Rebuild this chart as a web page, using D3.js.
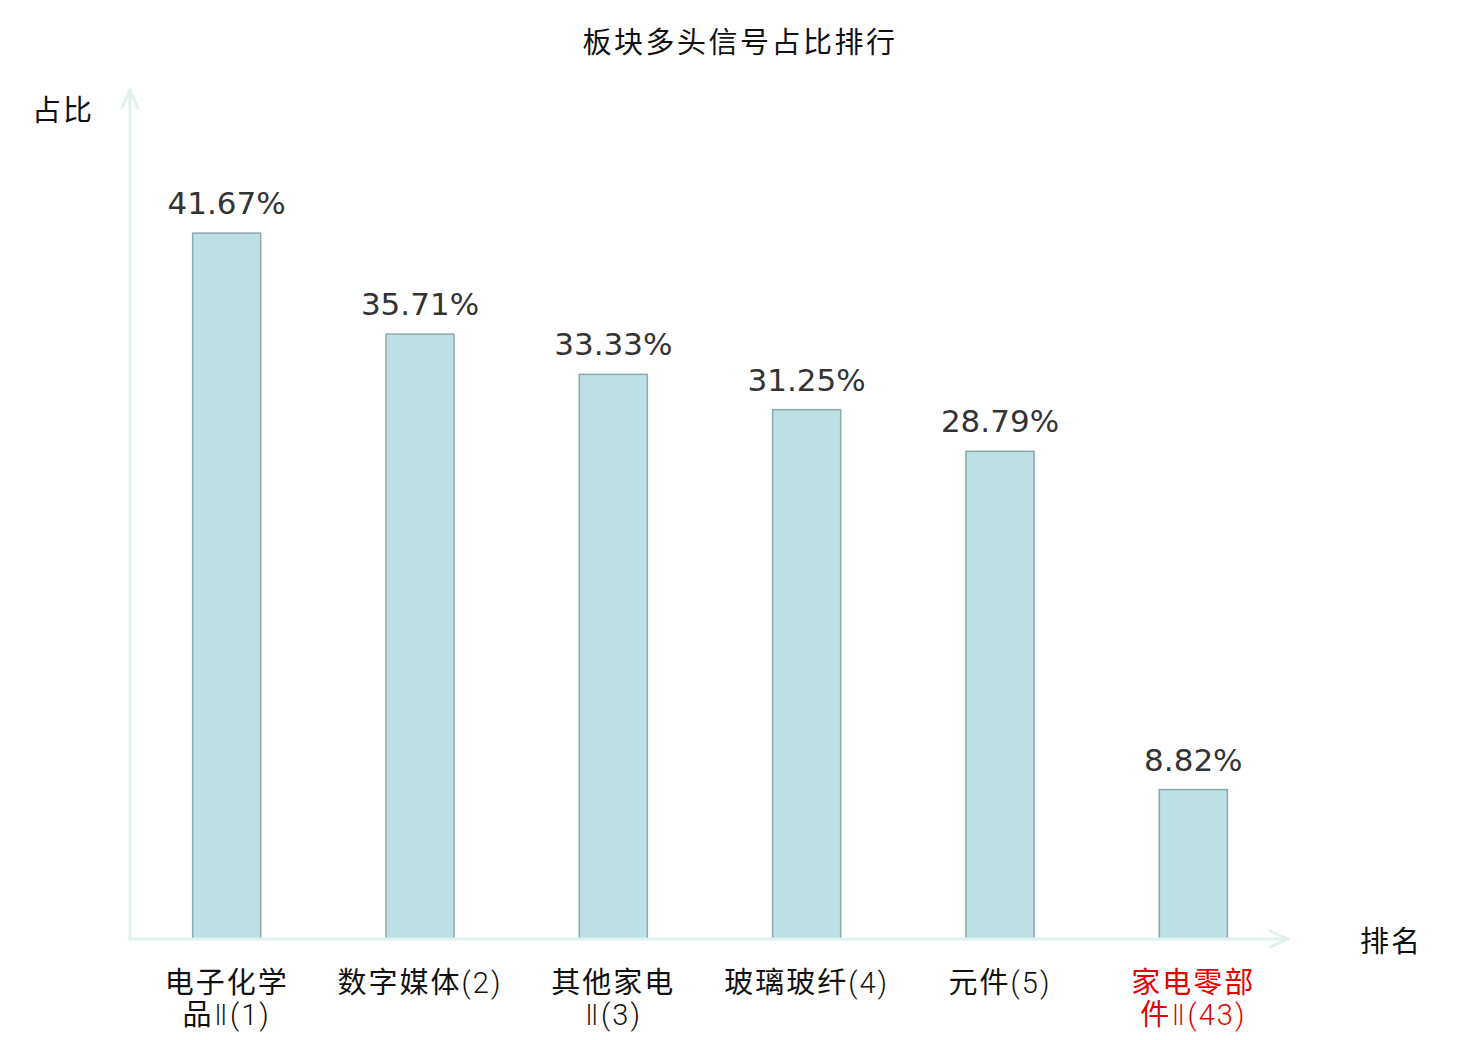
<!DOCTYPE html>
<html>
<head>
<meta charset="utf-8">
<script src="https://cdn.jsdelivr.net/npm/d3@7"></script>
<style>
  body { margin: 0; background: #fff; }
  svg { display: block; }
</style>
</head>
<body>
<div id="chart"></div>
<script>
const categories = ["电子化学品Ⅱ(1)", "数字媒体(2)", "其他家电Ⅱ(3)", "玻璃玻纤(4)", "元件(5)", "家电零部件Ⅱ(43)"]
const shares = [41.67, 35.71, 33.33, 31.25, 28.79, 8.82]
const highlighted = ["家电零部件Ⅱ(43)"]

const W = 1480, H = 1040
const MARGIN = { TOP: 92, BOTTOM: 101, LEFT: 130, RIGHT: 190 }
const CJK = "'Noto Sans CJK SC', 'DejaVu Sans', sans-serif"
const THIN = "'Roboto', 'DejaVu Sans', sans-serif"
const AXIS_COLOR = "#dff2ef"

const svg = d3.select("#chart").append("svg")
    .attr("width", W)
    .attr("height", H)

const x = d3.scaleBand()
    .domain(categories)
    .range([MARGIN.LEFT, W - MARGIN.RIGHT])
    .paddingInner(0.648)
    .paddingOuter(0.324)

const y = d3.scaleLinear()
    .domain([0, 50])
    .range([H - MARGIN.BOTTOM, MARGIN.TOP])

// title
svg.append("text")
    .attr("x", W / 2)
    .attr("y", 53)
    .attr("text-anchor", "middle")
    .style("font-family", CJK)
    .style("font-size", "29px")
    .style("letter-spacing", "2.5px")
    .attr("fill", "#111")
    .text("板块多头信号占比排行")

// bars
svg.selectAll("rect.bar")
    .data(shares)
    .enter().append("rect")
    .attr("class", "bar")
    .attr("x", (d, i) => x(categories[i]))
    .attr("y", d => y(d))
    .attr("width", x.bandwidth())
    .attr("height", d => y(0) - y(d))
    .attr("fill", "#bce0e3")
    .attr("stroke", "#8aa9aa")
    .attr("stroke-width", 1.5)

// value labels
svg.selectAll("text.val")
    .data(shares)
    .enter().append("text")
    .attr("class", "val")
    .attr("x", (d, i) => x(categories[i]) + x.bandwidth() / 2)
    .attr("y", d => y(d) - 19)
    .attr("text-anchor", "middle")
    .style("font-family", "'DejaVu Sans', sans-serif")
    .style("font-size", "31px")
    .attr("fill", "#333")
    .text(d => d.toFixed(2) + "%")

// axes drawn by hand with arrow heads
const x0 = MARGIN.LEFT, yBase = y(0)
const axes = svg.append("g")
    .attr("fill", "none")
    .attr("stroke", AXIS_COLOR)
    .attr("stroke-width", 3)
    .attr("stroke-linecap", "round")
    .attr("stroke-linejoin", "round")

axes.append("line").attr("x1", x0).attr("y1", yBase).attr("x2", 1288).attr("y2", yBase)
axes.append("polyline").attr("points", `1270,${yBase - 8} 1288,${yBase} 1270,${yBase + 8}`)
axes.append("line").attr("x1", x0).attr("y1", yBase).attr("x2", x0).attr("y2", 90)
axes.append("polyline").attr("points", `${x0 - 8},108 ${x0},90 ${x0 + 8},108`)

svg.append("text")
    .attr("x", 63)
    .attr("y", 121)
    .attr("text-anchor", "middle")
    .style("font-family", CJK)
    .style("font-size", "29px")
    .style("letter-spacing", "2px")
    .attr("fill", "#111")
    .text("占比")

svg.append("text")
    .attr("x", 1391)
    .attr("y", 952)
    .attr("text-anchor", "middle")
    .style("font-family", CJK)
    .style("font-size", "29px")
    .style("letter-spacing", "2px")
    .attr("fill", "#111")
    .text("排名")

// category labels, long names wrap after 4 chars
const wrap = s => s.length > 7 ? [s.slice(0, 4), s.slice(4)] : [s]
// split a line into CJK runs and the rest (digits, brackets, numerals)
const runs = s => s.match(/[\u4e00-\u9fff]+|[^\u4e00-\u9fff]+/g)

const ticks = svg.selectAll("text.cat")
    .data(categories)
    .enter().append("text")
    .attr("class", "cat")
    .attr("x", d => x(d) + x.bandwidth() / 2)
    .attr("y", 993)
    .attr("text-anchor", "middle")
    .style("font-size", "29px")
    .style("letter-spacing", "2px")
    .attr("fill", d => highlighted.includes(d) ? "#e60000" : "#111")

const lines = ticks.selectAll("tspan.line")
    .data(d => wrap(d))
    .enter().append("tspan")
    .attr("class", "line")
    .attr("x", function () { return this.parentNode.getAttribute("x") })
    .attr("dy", (d, i) => i === 0 ? 0 : 32)

lines.selectAll("tspan")
    .data(d => runs(d))
    .enter().append("tspan")
    .style("font-family", d => /[\u4e00-\u9fff]/.test(d) ? CJK : THIN)
    .style("font-weight", d => /[\u4e00-\u9fff]/.test(d) ? 400 : 300)
    .text(d => d)
</script>
</body>
</html>
